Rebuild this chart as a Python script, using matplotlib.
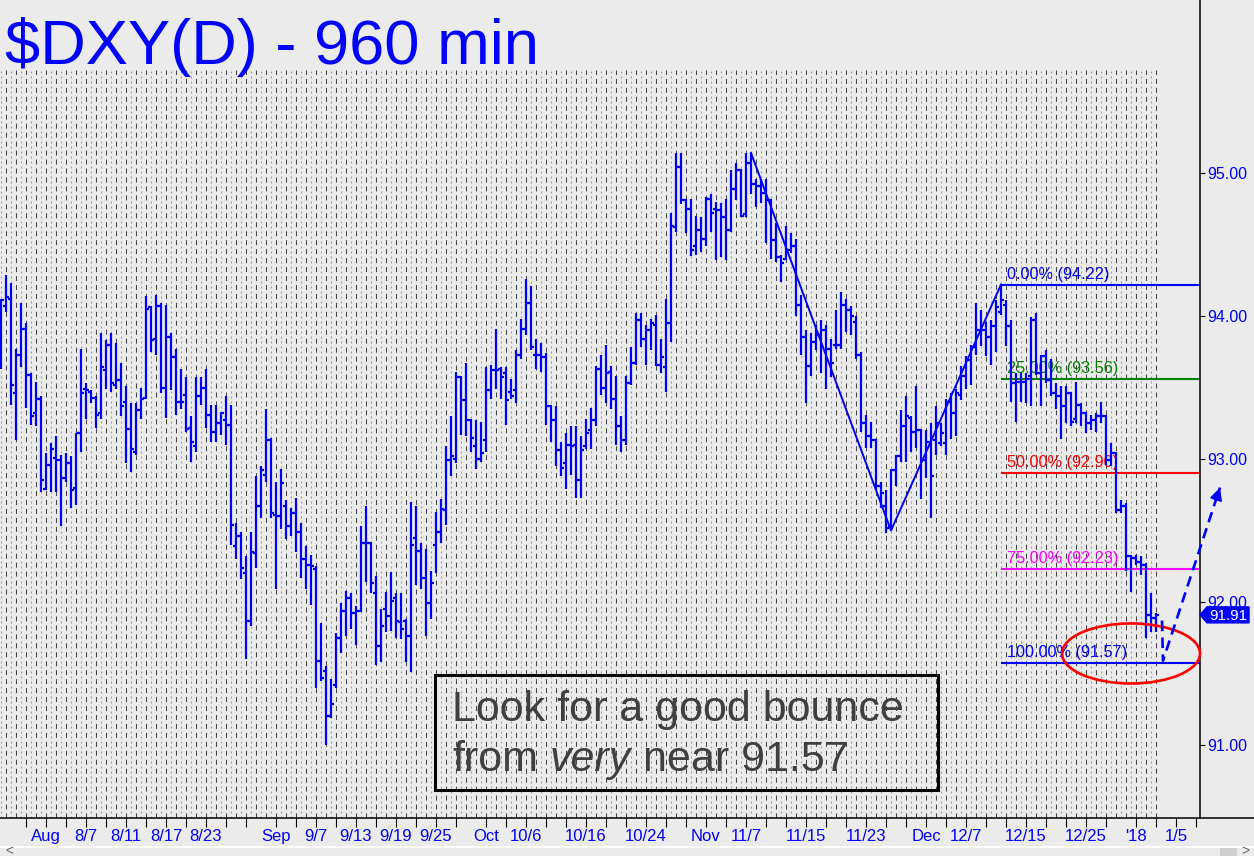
import numpy as np
import matplotlib
matplotlib.use('Agg')
import matplotlib.pyplot as plt
from matplotlib.patches import Ellipse, Polygon, Rectangle
from matplotlib.lines import Line2D
from matplotlib.transforms import blended_transform_factory

plt.rcParams['font.family'] = ['Liberation Sans', 'DejaVu Sans']

# 960-minute OHLC bars (Aug 2017 - Jan 2018)
opens = [
    93.70, 94.07, 94.12, 93.46, 93.73, 93.91, 93.59, 93.32, 93.42, 92.79,
    92.96, 93.01, 92.99, 92.87, 92.97, 92.80, 93.18, 93.49, 93.47, 93.43,
    93.32, 93.62, 93.80, 93.52, 93.55, 93.40, 93.21, 93.05, 93.34, 93.43,
    94.06, 93.84, 94.07, 93.50, 93.85, 93.71, 93.40, 93.45, 93.22, 93.09,
    93.44, 93.50, 93.31, 93.19, 93.25, 93.27, 93.24, 92.39, 92.46, 92.20,
    91.87, 92.34, 92.67, 92.89, 93.13, 92.61, 92.60, 92.67, 92.53, 92.62,
    92.49, 92.30, 92.26, 92.23, 91.59, 91.52, 91.20, 91.42, 91.75, 91.94,
    92.03, 91.92, 91.94, 92.41, 92.41, 92.06, 91.69, 91.95, 91.90, 92.03,
    91.86, 91.87, 91.76, 92.45, 92.36, 92.17, 91.99, 92.40, 92.49, 92.64,
    92.99, 93.00, 93.57, 93.41, 93.27, 93.09, 93.00, 93.13, 93.48, 93.62,
    93.63, 93.60, 93.47, 93.48, 93.73, 93.91, 94.09, 93.73, 93.73, 93.71,
    93.37, 93.27, 93.06, 92.97, 93.10, 93.10, 92.85, 93.09, 93.20, 93.27,
    93.63, 93.50, 93.61, 93.42, 93.23, 93.13, 93.53, 93.67, 93.97, 93.84,
    93.90, 93.94, 93.66, 93.64, 93.95, 94.62, 95.04, 94.81, 94.75, 94.49,
    94.60, 94.54, 94.82, 94.75, 94.74, 94.69, 94.60, 94.89, 95.02, 94.71,
    95.07, 94.92, 94.91, 94.86, 94.81, 94.53, 94.41, 94.40, 94.46, 94.49,
    94.08, 93.85, 93.65, 93.82, 93.87, 93.90, 93.77, 93.80, 93.80, 94.08,
    94.04, 93.96, 93.73, 93.25, 93.16, 93.13, 92.81, 92.67, 92.53, 92.92,
    93.02, 93.23, 93.29, 93.19, 93.20, 92.99, 93.12, 93.13, 93.11, 93.11,
    93.40, 93.32, 93.45, 93.58, 93.69, 93.78, 93.90, 93.90, 93.85, 93.93,
    94.03, 94.08, 93.93, 93.53, 93.54, 93.54, 93.58, 93.97, 93.60, 93.72,
    93.55, 93.46, 93.44, 93.37, 93.46, 93.28, 93.38, 93.32, 93.25, 93.27,
    93.30, 93.30, 92.99, 93.04, 92.64, 92.67, 92.32, 92.31, 92.28, 92.26,
    91.91, 91.89,
]
highs = [
    94.12, 94.29, 94.23, 93.77, 94.09, 93.95, 93.60, 93.54, 93.44, 93.04,
    93.11, 93.16, 93.03, 93.04, 93.02, 93.18, 93.77, 93.53, 93.48, 93.44,
    93.88, 93.83, 93.88, 93.81, 93.67, 93.51, 93.39, 93.39, 93.50, 94.14,
    94.07, 94.15, 94.09, 94.08, 93.88, 93.77, 93.63, 93.57, 93.30, 93.57,
    93.57, 93.63, 93.38, 93.38, 93.33, 93.44, 93.38, 92.55, 92.49, 92.32,
    92.49, 92.88, 92.95, 93.35, 93.15, 92.84, 92.93, 92.71, 92.66, 92.73,
    92.55, 92.39, 92.33, 92.25, 91.85, 91.55, 91.46, 91.78, 91.99, 92.08,
    92.06, 91.97, 92.53, 92.67, 92.42, 92.18, 91.95, 92.07, 92.21, 92.06,
    92.06, 91.88, 92.70, 92.67, 92.41, 92.37, 92.22, 92.63, 92.72, 93.09,
    93.30, 93.61, 93.58, 93.67, 93.28, 93.27, 93.26, 93.64, 93.66, 93.91,
    93.64, 93.64, 93.56, 93.76, 93.98, 94.26, 94.21, 93.84, 93.81, 93.74,
    93.38, 93.37, 93.12, 93.18, 93.23, 93.23, 93.16, 93.28, 93.36, 93.65,
    93.73, 93.80, 93.65, 93.58, 93.30, 93.58, 93.78, 94.02, 94.02, 93.94,
    93.98, 94.01, 93.84, 94.12, 94.72, 95.14, 95.14, 94.82, 94.82, 94.70,
    94.69, 94.83, 94.85, 94.80, 94.79, 94.82, 95.02, 95.07, 95.03, 95.14,
    95.14, 94.96, 94.96, 94.96, 94.82, 94.65, 94.43, 94.63, 94.58, 94.54,
    94.15, 93.90, 93.88, 93.94, 93.97, 93.94, 93.84, 94.04, 94.17, 94.12,
    94.07, 94.00, 93.75, 93.31, 93.26, 93.14, 92.84, 92.78, 92.93, 93.03,
    93.34, 93.44, 93.30, 93.51, 93.21, 93.20, 93.25, 93.37, 93.25, 93.42,
    93.46, 93.49, 93.65, 93.72, 93.80, 94.09, 94.04, 93.96, 93.97, 94.11,
    94.22, 94.11, 93.97, 93.60, 93.60, 93.60, 93.99, 94.02, 93.73, 93.76,
    93.70, 93.53, 93.51, 93.51, 93.47, 93.54, 93.39, 93.33, 93.31, 93.32,
    93.40, 93.31, 93.11, 93.05, 92.71, 92.69, 92.33, 92.33, 92.32, 92.27,
    92.06, 91.92,
]
lows = [
    93.63, 94.03, 93.38, 93.13, 93.64, 93.36, 93.24, 93.23, 92.77, 92.78,
    92.77, 92.77, 92.53, 92.84, 92.66, 92.68, 93.05, 93.28, 93.39, 93.22,
    93.28, 93.49, 93.47, 93.49, 93.30, 92.97, 92.91, 93.03, 93.28, 93.42,
    93.75, 93.73, 93.46, 93.29, 93.48, 93.31, 93.35, 93.19, 92.98, 93.05,
    93.38, 93.22, 93.12, 93.12, 93.17, 93.10, 92.40, 92.30, 92.16, 91.60,
    91.83, 92.24, 92.59, 92.84, 92.59, 92.09, 92.51, 92.44, 92.46, 92.35,
    92.17, 92.09, 91.98, 91.40, 91.45, 91.00, 91.19, 91.40, 91.64, 91.76,
    91.81, 91.70, 91.93, 92.14, 92.06, 91.56, 91.58, 91.79, 91.80, 91.75,
    91.74, 91.58, 91.51, 92.12, 92.09, 91.76, 91.88, 92.20, 92.41, 92.54,
    92.88, 92.97, 93.17, 93.16, 93.05, 92.93, 92.98, 93.05, 93.42, 93.49,
    93.42, 93.24, 93.42, 93.39, 93.70, 93.87, 93.76, 93.63, 93.61, 93.24,
    93.12, 92.95, 92.88, 92.79, 92.89, 92.73, 92.73, 93.07, 93.07, 93.23,
    93.45, 93.39, 93.35, 93.10, 93.05, 93.10, 93.52, 93.66, 93.78, 93.66,
    93.76, 93.65, 93.60, 93.47, 93.82, 94.59, 94.78, 94.58, 94.42, 94.43,
    94.45, 94.49, 94.59, 94.39, 94.41, 94.39, 94.59, 94.81, 94.69, 94.69,
    94.85, 94.76, 94.79, 94.51, 94.40, 94.38, 94.24, 94.39, 94.44, 94.00,
    93.73, 93.39, 93.58, 93.76, 93.60, 93.49, 93.57, 93.77, 93.77, 93.89,
    93.87, 93.70, 93.19, 93.08, 93.08, 92.78, 92.66, 92.48, 92.50, 92.81,
    92.98, 92.98, 93.05, 93.08, 92.72, 92.87, 92.59, 93.03, 93.09, 93.03,
    93.14, 93.16, 93.41, 93.49, 93.52, 93.73, 93.79, 93.72, 93.66, 93.75,
    94.01, 93.79, 93.40, 93.26, 93.40, 93.39, 93.37, 93.59, 93.37, 93.53,
    93.44, 93.35, 93.14, 93.25, 93.23, 93.25, 93.23, 93.18, 93.20, 93.19,
    93.25, 92.96, 92.95, 92.62, 92.62, 92.22, 92.07, 92.26, 92.19, 91.75,
    91.79, 91.79,
]
closes = [
    94.11, 94.13, 93.52, 93.73, 93.91, 93.59, 93.30, 93.42, 92.85, 92.96,
    93.07, 92.99, 92.87, 92.97, 92.78, 93.18, 93.46, 93.48, 93.43, 93.31,
    93.64, 93.80, 93.53, 93.55, 93.37, 93.21, 93.07, 93.34, 93.42, 94.05,
    93.83, 94.07, 93.50, 93.85, 93.71, 93.40, 93.40, 93.21, 93.12, 93.44,
    93.50, 93.31, 93.19, 93.25, 93.32, 93.24, 92.54, 92.46, 92.24, 91.87,
    92.35, 92.67, 92.92, 93.13, 92.62, 92.60, 92.83, 92.53, 92.62, 92.49,
    92.30, 92.26, 92.25, 91.59, 91.47, 91.20, 91.29, 91.75, 91.94, 92.03,
    91.92, 91.94, 92.41, 92.41, 92.13, 91.69, 91.83, 91.90, 92.01, 91.87,
    91.81, 91.76, 92.40, 92.36, 92.17, 91.99, 92.13, 92.49, 92.65, 92.99,
    93.02, 93.57, 93.41, 93.27, 93.15, 93.00, 93.04, 93.48, 93.62, 93.62,
    93.57, 93.41, 93.44, 93.73, 93.91, 94.09, 93.78, 93.73, 93.71, 93.37,
    93.27, 93.06, 92.94, 93.10, 93.09, 92.85, 93.06, 93.18, 93.27, 93.63,
    93.50, 93.60, 93.42, 93.23, 93.13, 93.53, 93.67, 93.97, 93.84, 93.90,
    93.95, 93.66, 93.71, 93.95, 94.63, 95.04, 94.81, 94.75, 94.46, 94.60,
    94.54, 94.82, 94.72, 94.74, 94.69, 94.60, 94.89, 95.02, 94.70, 95.07,
    94.92, 94.91, 94.86, 94.81, 94.53, 94.41, 94.37, 94.46, 94.49, 94.08,
    93.85, 93.65, 93.82, 93.87, 93.90, 93.77, 93.67, 93.80, 94.08, 94.04,
    94.00, 93.73, 93.25, 93.16, 93.13, 92.81, 92.76, 92.52, 92.92, 93.02,
    93.23, 93.30, 93.19, 93.20, 92.99, 93.12, 92.88, 93.25, 93.18, 93.40,
    93.32, 93.46, 93.58, 93.69, 93.78, 93.90, 93.90, 93.85, 93.93, 94.06,
    94.11, 93.93, 93.53, 93.54, 93.54, 93.56, 93.97, 93.60, 93.72, 93.55,
    93.46, 93.44, 93.37, 93.46, 93.26, 93.38, 93.32, 93.25, 93.27, 93.30,
    93.30, 92.99, 93.04, 92.64, 92.67, 92.32, 92.31, 92.28, 92.26, 91.91,
    91.89, 91.91,
]

tick_bars = [5, 9, 13, 17, 21, 25, 29, 33, 37, 41, 45, 49, 55, 59, 63, 67, 71,
             75, 79, 83, 87, 91, 97, 101, 105, 109, 113, 117, 121, 125, 129,
             133, 137, 141, 145, 149, 153, 157, 161, 165, 169, 173, 177, 181,
             185, 189, 193, 197, 201, 205, 209, 213, 217, 221, 227, 231, 235, 239]
tick_names = {9: 'Aug', 17: '8/7', 25: '8/11', 33: '8/17', 41: '8/23',
              55: 'Sep', 63: '9/7', 71: '9/13', 79: '9/19', 87: '9/25',
              97: 'Oct', 105: '10/6', 117: '10/16', 129: '10/24', 141: 'Nov',
              149: '11/7', 161: '11/15', 173: '11/23', 185: 'Dec', 193: '12/7',
              205: '12/15', 217: '12/25', 227: "'18", 235: '1/5'}
price_ticks = [91, 92, 93, 94, 95]

swing_bars = [150, 178, 200]
swing_prices = [95.14, 92.50, 94.22]
fib_pcts = [0, 25, 50, 75, 100]
fib_levels = [94.22, 93.56, 92.90, 92.23, 91.57]
fib_colors = ['#0000ff', '#008000', '#ff0000', '#ff00ff', '#0000ff']
last_price = 91.91
target_x = [232.2, 232.4, 243.8]
target_y = [91.87, 91.59, 92.80]
zone_center = (226.0, 91.64)
zone_size = (27.6, 0.42)

W, H = 1254, 856
BG = '#ebebeb'
BLUE = '#0000ff'
xmin, xmax = -0.2, 239.8
ymin, ymax = 90.4895, 96.2098

fig = plt.figure(figsize=(W / 100, H / 100), dpi=100, facecolor=BG)
ax = fig.add_axes([0, 38 / H, 1200 / W, 818 / H])
ax.set_facecolor(BG)
ax.set_xlim(xmin, xmax)
ax.set_ylim(ymin, ymax)

idx = np.arange(len(closes))
ax.vlines(idx[1::2], ymin, 95.72, colors='#454545', linewidth=0.75,
          linestyles=(0, (4.8, 3.8)), zorder=1)
ax.vlines(idx[0::2], ymin, 95.72, colors='#9a9a9a', linewidth=0.75,
          linestyles=(0, (1.9, 2.9)), zorder=1)

for pct, lvl, col in zip(fib_pcts, fib_levels, fib_colors):
    ax.hlines(lvl, swing_bars[-1], xmax, colors=col, linewidth=1.5, zorder=2)
    ax.text(swing_bars[-1] + 1.2, lvl + 0.042, '%.2f%% (%.2f)' % (pct, lvl),
            color=col, fontsize=11.7, va='baseline', ha='left', zorder=2)

ax.vlines(idx, lows, highs, colors=BLUE, linewidth=1.6, zorder=3)
ax.hlines(opens, idx - 0.55, idx, colors=BLUE, linewidth=1.6, zorder=3)
ax.hlines(closes, idx, idx + 0.55, colors=BLUE, linewidth=1.6, zorder=3)

ax.plot(swing_bars, swing_prices, color=BLUE, lw=1.4, zorder=4)

ax.add_patch(Ellipse(zone_center, zone_size[0], zone_size[1], fill=False,
                     edgecolor='#ff0000', lw=1.9, clip_on=False, zorder=6))

ax.plot(target_x, target_y, color=BLUE, lw=1.9, linestyle=(0, (4, 2.4)),
        clip_on=False, zorder=6)
ax.annotate('', xy=(target_x[-1], target_y[-1]),
            xytext=(target_x[-1] - 0.02 * (target_x[-1] - target_x[-2]),
                    target_y[-1] - 0.02 * (target_y[-1] - target_y[-2])),
            arrowprops=dict(arrowstyle='-|>', color=BLUE, lw=1.5,
                            mutation_scale=18, shrinkA=0, shrinkB=0),
            annotation_clip=False, zorder=6)

# axes
for s in ['left', 'top', 'bottom']:
    ax.spines[s].set_visible(False)
ax.spines['right'].set_color('black')
ax.spines['right'].set_linewidth(1.1)
ax.yaxis.tick_right()
ax.set_yticks(price_ticks)
ax.set_yticklabels(['%.2f' % v for v in price_ticks])
ax.tick_params(axis='y', direction='out', length=3.6, width=0.8,
               colors='black', labelcolor=BLUE, labelsize=11.5, pad=1.5)
ax.set_xticks(tick_bars)
ax.set_xticklabels([tick_names.get(b, '') for b in tick_bars])
ax.tick_params(axis='x', direction='out', length=6.5, width=0.8,
               colors='black', labelcolor=BLUE, labelsize=12, pad=1.5)
fig.add_artist(Line2D([0, 1], [38 / H, 38 / H], color='black', lw=1.1))

# last price flag
tr = blended_transform_factory(fig.transFigure, ax.transData)
half = 8 / 143
ax.add_patch(Polygon([(1200 / W, last_price), (1207 / W, last_price + half),
                      (1249 / W, last_price + half), (1249 / W, last_price - half),
                      (1207 / W, last_price - half)], closed=True,
                     facecolor=BLUE, edgecolor=BLUE, transform=tr,
                     clip_on=False, zorder=7))
ax.text(1228 / W, last_price - 0.005, '%.2f' % last_price, transform=tr,
        color='white', fontsize=11, ha='center', va='center', zorder=8,
        clip_on=False)

# title
fig.text(5 / W, 1 - 64 / H, '$DXY(D) - 960 min', fontsize=45.5, color=BLUE,
         ha='left', va='baseline')

# comment box
fig.add_artist(Rectangle((435 / W, 1 - 790 / H), 503 / W, 115 / H, fill=False,
                         edgecolor='black', lw=2.2, transform=fig.transFigure))
note_color = '#404040'
fig.text(452 / W, 1 - 721 / H, 'Look for a good bounce', fontsize=31,
         color=note_color, ha='left', va='baseline')
t1 = fig.text(452 / W, 1 - 771 / H, 'from', fontsize=31, color=note_color,
              ha='left', va='baseline')
t2 = ax.annotate('very', xy=(1, 0), xycoords=t1, xytext=(8.6, 0),
                 textcoords='offset points', fontsize=31, style='italic',
                 color=note_color, ha='left', va='bottom', annotation_clip=False)
ax.annotate('near 91.57', xy=(1, 0), xycoords=t2, xytext=(8.6, 0),
            textcoords='offset points', fontsize=31, color=note_color,
            ha='left', va='bottom', annotation_clip=False)

# scroll bar strip
fig.add_artist(Line2D([0, 1], [9 / H, 9 / H], color='white', lw=1.5))
fig.add_artist(Rectangle((1220 / W, 0), 17 / W, 8 / H, facecolor='#cfcfcf',
                         edgecolor='none', transform=fig.transFigure))
fig.text(5 / W, -2 / H, '<', fontsize=10, color='#666666', ha='left', va='bottom')
fig.text(1249 / W, -2 / H, '>', fontsize=10, color='#666666', ha='right', va='bottom')

fig.savefig('out.png', dpi=100, facecolor=BG)
